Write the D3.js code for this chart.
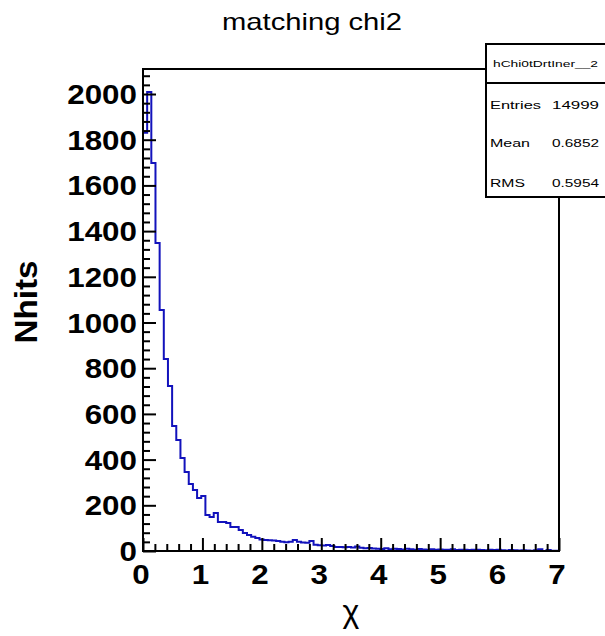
<!DOCTYPE html>
<html>
<head>
<meta charset="utf-8">
<script src="https://cdn.jsdelivr.net/npm/d3@7"></script>
<style>
  html, body { margin: 0; padding: 0; background: #fff; }
  svg { display: block; }
  text { font-family: "Liberation Sans", Arial, Helvetica, sans-serif; }
</style>
</head>
<body>
<svg id="chart" width="605" height="636"></svg>
<script>
// Histogram of matching chi: 100 bins of width 0.07 over [0, 7]
const xRange = [0, 7];
const binWidth = 0.07;
const counts = [
  1830, 2009, 1698, 1348, 1055, 840, 722, 547, 486, 407,
  346, 293, 267, 232, 241, 158, 149, 166, 127, 127,
  123, 105, 105, 92, 79, 70, 62, 57, 50, 48,
  47, 46, 44, 40, 38, 41, 48, 40, 37, 36,
  44, 27, 25, 24, 26, 22, 18, 17, 16, 18,
  15, 20, 14, 12, 13, 11, 10, 9, 12, 8,
  10, 9, 7, 10, 8, 6, 9, 7, 6, 8,
  5, 7, 6, 5, 8, 4, 6, 5, 4, 6,
  5, 4, 3, 5, 4, 6, 3, 2, 4, 3,
  2, 3, 2, 1, 3, 8, 0, 4, 1, 1
];
const yTicks = [0, 200, 400, 600, 800, 1000, 1200, 1400, 1600, 1800, 2000];
const xTicks = [0, 1, 2, 3, 4, 5, 6, 7];
const titleText = "matching chi2";
const xTitle = "\u03C7";
const yTitle = "Nhits";
const statsName = "hChi0tDrtIner__2";
const statsLabels = ["Entries", "Mean", "RMS"];
const statsValues = ["14999", "0.6852", "0.5954"];

const svg = d3.select("#chart");
const frame = { left: 143, right: 559, top: 69, bottom: 551 };
const yMax = d3.max(counts) * 1.05;

const x = d3.scaleLinear().domain(xRange).range([frame.left, frame.right]);
const y = d3.scaleLinear().domain([0, yMax]).range([frame.bottom, frame.top]);

const lineColor = "#1212bc";
const stretch = 1.12; // labels are drawn a little wider than the plain face

// Title
svg.append("text")
  .attr("x", 312).attr("y", 30)
  .attr("text-anchor", "middle")
  .attr("font-size", 24)
  .attr("textLength", 180).attr("lengthAdjust", "spacingAndGlyphs")
  .text(titleText);

// Histogram outline: from the baseline at the left edge to the baseline at the right edge
const pts = [[xRange[0], 0]];
counts.forEach((c, i) => {
  const lo = xRange[0] + i * binWidth;
  pts.push([lo, c], [lo + binWidth, c]);
});
pts.push([xRange[1], 0]);

svg.append("path")
  .datum(pts)
  .attr("fill", "none")
  .attr("stroke", lineColor)
  .attr("stroke-width", 2)
  .attr("d", d3.line().x(d => x(d[0])).y(d => y(d[1])));

// Y axis: major every 200, minor every 40, ticks pointing inward
const yMinor = d3.range(0, yMax, 40).filter(v => v % 200 !== 0);
const gy = svg.append("g").attr("transform", `translate(${frame.left},0)`);
gy.call(d3.axisRight(y).tickValues(yTicks).tickSize(13).tickFormat(""));
gy.append("g").call(d3.axisRight(y).tickValues(yMinor).tickSize(7).tickFormat(""));
gy.selectAll("path.domain").remove();
gy.selectAll("line").attr("stroke", "#000").attr("stroke-width", 2);

// Y tick labels
svg.append("g").selectAll("text")
  .data(yTicks).join("text")
  .attr("transform", d => `translate(137,${y(d) + 10}) scale(${stretch},1)`)
  .attr("text-anchor", "end")
  .attr("font-size", 28).attr("font-weight", "bold")
  .text(d => d);

// X axis: major at each unit, minor every 0.2
const gx = svg.append("g").attr("transform", `translate(0,${frame.bottom})`);
gx.call(d3.axisTop(x).tickValues(xTicks).tickSize(13).tickFormat(""));
const xMinor = d3.range(0, 35).map(i => i * 0.2).filter((v, i) => i % 5 !== 0);
gx.append("g").call(d3.axisTop(x).tickValues(xMinor).tickSize(7).tickFormat(""));
gx.selectAll("path.domain").remove();
gx.selectAll("line").attr("stroke", "#000").attr("stroke-width", 2);

svg.append("g").selectAll("text")
  .data(xTicks).join("text")
  .attr("transform", d => `translate(${x(d) - 2},584) scale(${stretch},1)`)
  .attr("text-anchor", "middle")
  .attr("font-size", 28).attr("font-weight", "bold")
  .text(d => d);

// Frame
svg.append("rect")
  .attr("x", frame.left).attr("y", frame.top)
  .attr("width", frame.right - frame.left).attr("height", frame.bottom - frame.top)
  .attr("fill", "none").attr("stroke", "#000").attr("stroke-width", 2);

// Axis titles
svg.append("text")
  .attr("x", x(3.5)).attr("y", 622)
  .attr("text-anchor", "middle")
  .attr("font-family", "'Liberation Serif', 'DejaVu Serif', serif")
  .attr("font-size", 32)
  .text(xTitle);

svg.append("text")
  .attr("transform", "translate(37,302) rotate(-90)")
  .attr("text-anchor", "middle")
  .attr("font-size", 31).attr("font-weight", "bold")
  .attr("textLength", 83).attr("lengthAdjust", "spacingAndGlyphs")
  .text(yTitle);

// Statistics box
const sb = { left: 486, top: 44, right: 612, bottom: 197, header: 83 };
svg.append("rect")
  .attr("x", sb.left).attr("y", sb.top)
  .attr("width", sb.right - sb.left).attr("height", sb.bottom - sb.top)
  .attr("fill", "#fff").attr("stroke", "#000").attr("stroke-width", 2);
svg.append("line")
  .attr("x1", sb.left).attr("x2", sb.right)
  .attr("y1", sb.header).attr("y2", sb.header)
  .attr("stroke", "#000").attr("stroke-width", 2);
svg.append("text")
  .attr("x", 493).attr("y", 67)
  .attr("font-size", 9)
  .attr("textLength", 105).attr("lengthAdjust", "spacingAndGlyphs")
  .text(statsName);
const rowY = [109, 147, 187];
const labelW = [51, 40, 35];
statsLabels.forEach((lab, i) => {
  svg.append("text").attr("x", 490).attr("y", rowY[i])
    .attr("font-size", 10)
    .attr("textLength", labelW[i]).attr("lengthAdjust", "spacingAndGlyphs")
    .text(lab);
  svg.append("text").attr("x", 552).attr("y", rowY[i])
    .attr("font-size", 10)
    .attr("textLength", 47).attr("lengthAdjust", "spacingAndGlyphs")
    .text(statsValues[i]);
});
</script>
</body>
</html>
